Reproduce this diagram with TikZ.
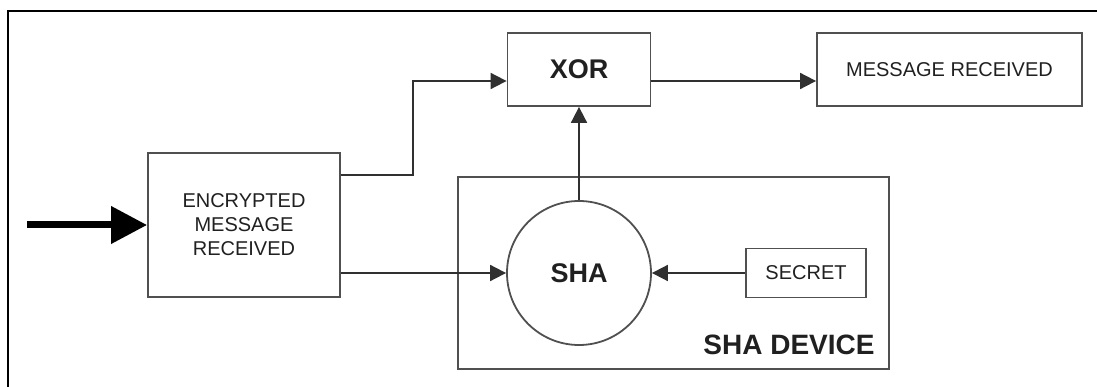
\documentclass[tikz,border=0pt]{standalone}
\usepackage{fontspec}
\setmainfont{Liberation Sans}
\usetikzlibrary{arrows.meta,calc}
\definecolor{boxline}{HTML}{505050}
\definecolor{wire}{HTML}{303030}
\definecolor{txt}{HTML}{202020}
\tikzset{
  box/.style={draw=boxline, line width=1.8pt, rectangle, inner sep=0pt, text=txt,
    font=\fontsize{20}{24}\selectfont, align=center},
  boldbox/.style={box, font=\fontsize{27}{30}\selectfont\bfseries},
  conn/.style={draw=wire, line width=1.8pt, -{Triangle[length=16pt,width=16pt]}},
  bigarrow/.style={draw=black, line width=7pt, -{Triangle[length=36pt,width=36pt]}},
}
\begin{document}
\begin{tikzpicture}[x=1pt,y=-1pt]
\useasboundingbox (0,0) rectangle (1097,387);
% outer frame
\coordinate (frTR) at (1100,11);
\coordinate (frTL) at (8,11);
\coordinate (frBL) at (8,390);
\draw[line width=2.2pt, black] (frTR) -- (frTL) -- (frBL);

% device box
\node[box, minimum width=431pt, minimum height=192pt] (dev) at (673.5,273) {};
\node[font=\fontsize{28}{30}\selectfont\bfseries, text=txt, inner sep=0pt] (devlabel) at (789,345) {SHA DEVICE};

% nodes
\node[box, minimum width=192pt, minimum height=144pt] (enc) at (244,225) {ENCRYPTED\\MESSAGE\\RECEIVED};
\node[boldbox, minimum width=143pt, minimum height=73pt] (xor) at (579,69.5) {XOR};
\node[box, minimum width=265pt, minimum height=73pt] (msg) at (949.5,69.5) {MESSAGE RECEIVED};
\node[box, circle, minimum size=144pt, font=\fontsize{27}{30}\selectfont\bfseries] (sha) at (579,273) {SHA};
\node[box, minimum width=120pt, minimum height=49pt] (sec) at (806,273) {SECRET};

% connectors
\coordinate (inp) at (27,225);
\draw[bigarrow] (inp) -- (enc.west);
\draw[conn] ([yshift=-23pt]enc.north east) -- ++(72,0) |- ([yshift=-11.5pt]xor.west);
\draw[conn] ([yshift=-48pt]enc.east) -- (sha.west);
\draw[conn] (sec.west) -- (sha.east);
\draw[conn] (sha.north) -- (xor.south);
\draw[conn] ([yshift=-11.5pt]xor.east) -- ([yshift=-11.5pt]msg.west);
\end{tikzpicture}
\end{document}
